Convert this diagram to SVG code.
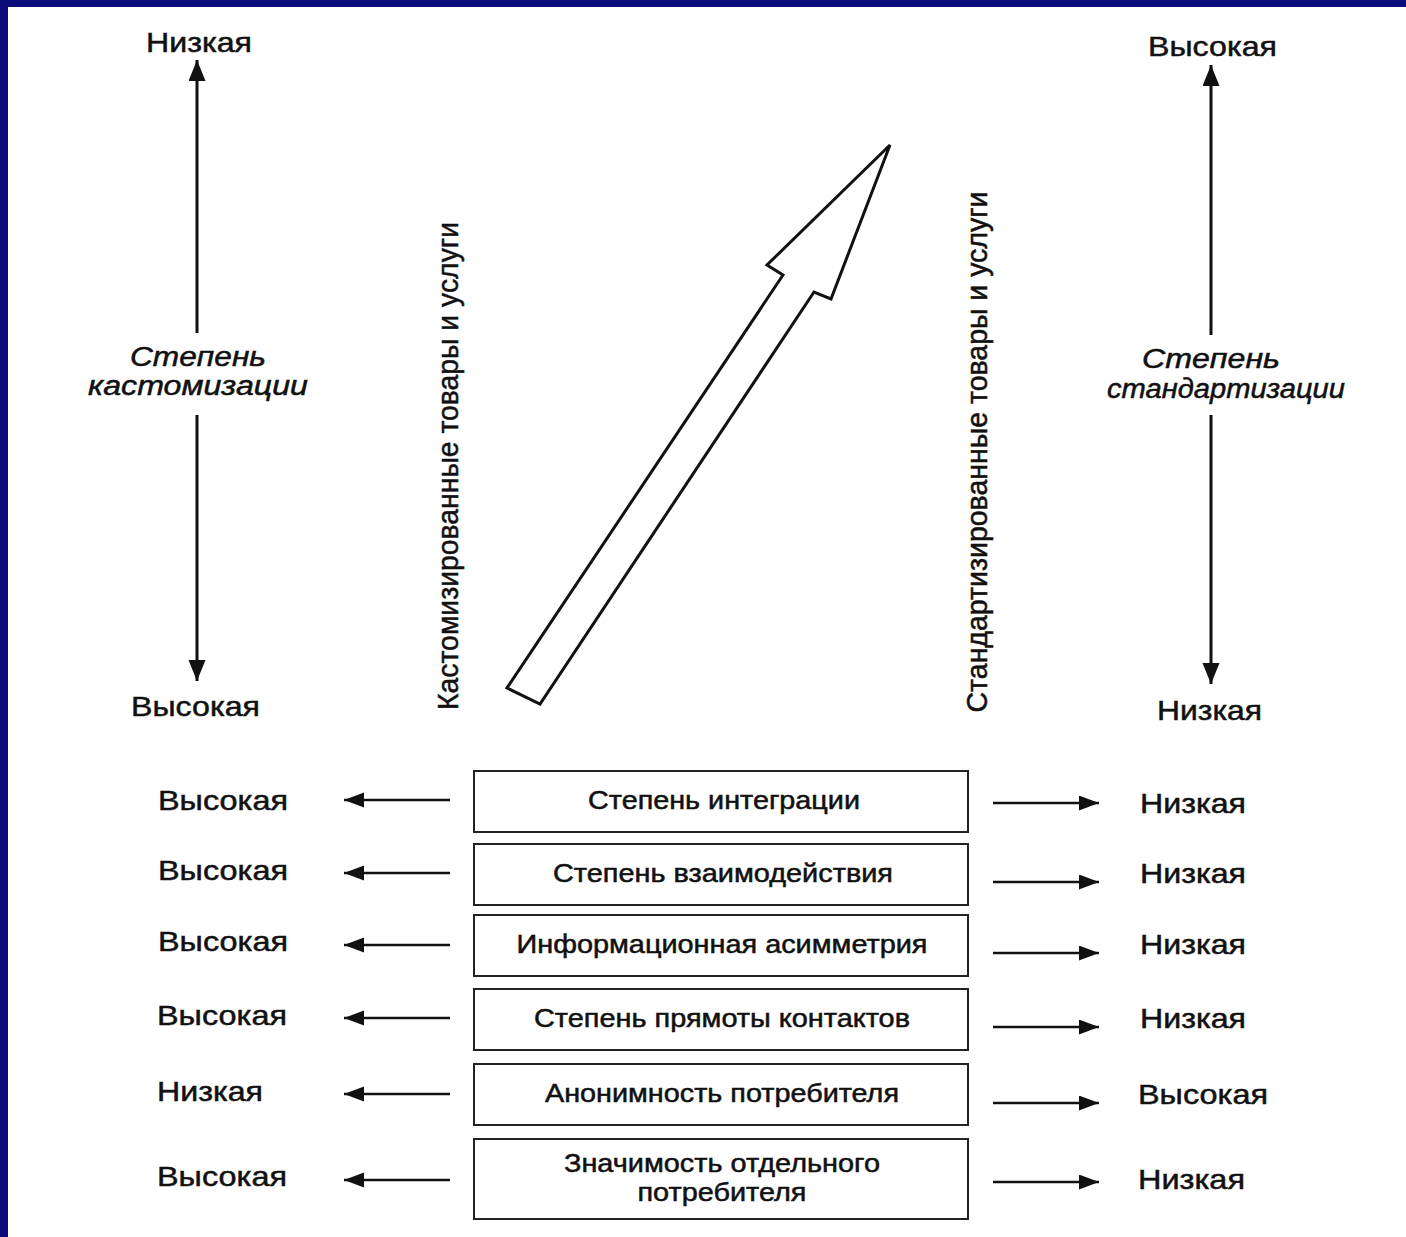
<svg xmlns="http://www.w3.org/2000/svg" width="1406" height="1237" viewBox="0 0 1406 1237">
<defs>
<marker id="ahV" markerUnits="userSpaceOnUse" markerWidth="24" markerHeight="20" refX="21" refY="8.5" orient="auto">
<path d="M0,0 L21,8.5 L0,17 Z" fill="#111"/>
</marker>
<marker id="ahH" markerUnits="userSpaceOnUse" markerWidth="22" markerHeight="18" refX="20" refY="7.5" orient="auto">
<path d="M0,0 L20,7.5 L0,15 Z" fill="#111"/>
</marker>
</defs>
<style>
text{font-family:"Liberation Sans",Arial,"Noto Sans",sans-serif;fill:#111;stroke:#111;stroke-width:0.5}
.lbl{font-size:28px}
.it{font-size:27px;font-style:italic;text-anchor:middle}
.box{font-size:25px;text-anchor:middle}
.vt{font-size:29px;text-anchor:middle}
.node rect{fill:#fff;stroke:#222;stroke-width:2}
.ln{stroke:#111;stroke-width:2.5;fill:none}
.va{stroke:#111;stroke-width:3;fill:none}
</style>
<rect x="0" y="0" width="1406" height="1237" fill="#0b0b7c"/>
<rect x="8" y="7" width="1398" height="1230" fill="#fff"/>

<g id="connectors">
<line class="va" x1="197" y1="333" x2="197" y2="60" marker-end="url(#ahV)"/>
<line class="va" x1="197" y1="415" x2="197" y2="681" marker-end="url(#ahV)"/>
<line class="va" x1="1211" y1="335" x2="1211" y2="65" marker-end="url(#ahV)"/>
<line class="va" x1="1211" y1="415" x2="1211" y2="684" marker-end="url(#ahV)"/>
<line class="ln" x1="450" y1="800" x2="344" y2="800" marker-end="url(#ahH)"/>
<line class="ln" x1="450" y1="873" x2="344" y2="873" marker-end="url(#ahH)"/>
<line class="ln" x1="450" y1="945" x2="344" y2="945" marker-end="url(#ahH)"/>
<line class="ln" x1="450" y1="1018" x2="344" y2="1018" marker-end="url(#ahH)"/>
<line class="ln" x1="450" y1="1094" x2="344" y2="1094" marker-end="url(#ahH)"/>
<line class="ln" x1="450" y1="1180" x2="344" y2="1180" marker-end="url(#ahH)"/>
<line class="ln" x1="993" y1="803" x2="1099" y2="803" marker-end="url(#ahH)"/>
<line class="ln" x1="993" y1="882" x2="1099" y2="882" marker-end="url(#ahH)"/>
<line class="ln" x1="993" y1="953" x2="1099" y2="953" marker-end="url(#ahH)"/>
<line class="ln" x1="993" y1="1027" x2="1099" y2="1027" marker-end="url(#ahH)"/>
<line class="ln" x1="993" y1="1103" x2="1099" y2="1103" marker-end="url(#ahH)"/>
<line class="ln" x1="993" y1="1182" x2="1099" y2="1182" marker-end="url(#ahH)"/>
</g>

<g id="big-arrow">
<polygon points="890,145 831,299 814,292 540,704 507,688 783,275 767,265" fill="#fff" stroke="#111" stroke-width="3" stroke-linejoin="miter"/>
</g>

<g id="left-axis">
<text class="lbl" x="146" y="52" textLength="106" lengthAdjust="spacingAndGlyphs">Низкая</text>
<text class="it" x="198" y="366" textLength="136" lengthAdjust="spacingAndGlyphs">Степень</text>
<text class="it" x="198" y="395" textLength="220" lengthAdjust="spacingAndGlyphs">кастомизации</text>
<text class="lbl" x="131" y="716" textLength="129" lengthAdjust="spacingAndGlyphs">Высокая</text>
</g>

<g id="right-axis">
<text class="lbl" x="1148" y="56" textLength="129" lengthAdjust="spacingAndGlyphs">Высокая</text>
<text class="it" x="1211" y="368" textLength="138" lengthAdjust="spacingAndGlyphs">Степень</text>
<text class="it" x="1226" y="398" textLength="238" lengthAdjust="spacingAndGlyphs">стандартизации</text>
<text class="lbl" x="1157" y="720" textLength="105" lengthAdjust="spacingAndGlyphs">Низкая</text>
</g>

<g id="vertical-labels">
<text class="vt" transform="translate(458,466) rotate(-90)" textLength="488" lengthAdjust="spacingAndGlyphs">Кастомизированные товары и услуги</text>
<text class="vt" transform="translate(987,452) rotate(-90)" textLength="521" lengthAdjust="spacingAndGlyphs">Стандартизированные товары и услуги</text>
</g>

<g id="row1" class="node">
<rect x="474" y="771" width="494" height="61"/>
<text class="box" x="724" y="809" textLength="272" lengthAdjust="spacingAndGlyphs">Степень интеграции</text>
<text class="lbl" x="158" y="810" textLength="130" lengthAdjust="spacingAndGlyphs">Высокая</text>
<text class="lbl" x="1140" y="813" textLength="106" lengthAdjust="spacingAndGlyphs">Низкая</text>
</g>
<g id="row2" class="node">
<rect x="474" y="844" width="494" height="61"/>
<text class="box" x="723" y="882" textLength="340" lengthAdjust="spacingAndGlyphs">Степень взаимодействия</text>
<text class="lbl" x="158" y="880" textLength="130" lengthAdjust="spacingAndGlyphs">Высокая</text>
<text class="lbl" x="1140" y="883" textLength="106" lengthAdjust="spacingAndGlyphs">Низкая</text>
</g>
<g id="row3" class="node">
<rect x="474" y="915" width="494" height="61"/>
<text class="box" x="722" y="953" textLength="411" lengthAdjust="spacingAndGlyphs">Информационная асимметрия</text>
<text class="lbl" x="158" y="951" textLength="130" lengthAdjust="spacingAndGlyphs">Высокая</text>
<text class="lbl" x="1140" y="954" textLength="106" lengthAdjust="spacingAndGlyphs">Низкая</text>
</g>
<g id="row4" class="node">
<rect x="474" y="989" width="494" height="61"/>
<text class="box" x="722" y="1027" textLength="376" lengthAdjust="spacingAndGlyphs">Степень прямоты контактов</text>
<text class="lbl" x="157" y="1025" textLength="130" lengthAdjust="spacingAndGlyphs">Высокая</text>
<text class="lbl" x="1140" y="1028" textLength="106" lengthAdjust="spacingAndGlyphs">Низкая</text>
</g>
<g id="row5" class="node">
<rect x="474" y="1064" width="494" height="61"/>
<text class="box" x="722" y="1102" textLength="354" lengthAdjust="spacingAndGlyphs">Анонимность потребителя</text>
<text class="lbl" x="157" y="1101" textLength="106" lengthAdjust="spacingAndGlyphs">Низкая</text>
<text class="lbl" x="1138" y="1104" textLength="130" lengthAdjust="spacingAndGlyphs">Высокая</text>
</g>
<g id="row6" class="node">
<rect x="474" y="1139" width="494" height="80"/>
<text class="box" x="722" y="1172" textLength="316" lengthAdjust="spacingAndGlyphs">Значимость отдельного</text>
<text class="box" x="722" y="1201" textLength="169" lengthAdjust="spacingAndGlyphs">потребителя</text>
<text class="lbl" x="157" y="1186" textLength="130" lengthAdjust="spacingAndGlyphs">Высокая</text>
<text class="lbl" x="1138" y="1189" textLength="107" lengthAdjust="spacingAndGlyphs">Низкая</text>
</g>
</svg>
